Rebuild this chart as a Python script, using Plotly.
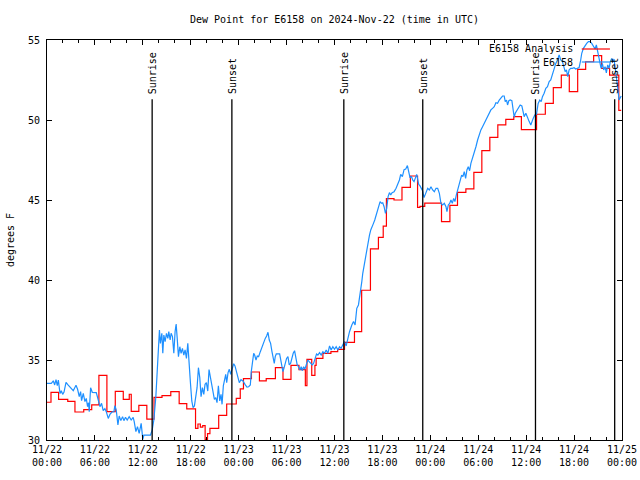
import plotly.graph_objects as go
import pandas as pd

TITLE = "Dew Point for E6158 on 2024-Nov-22 (time in UTC)"
START = "2024-11-22 00:00"
END = "2024-11-25 00:00"
Y_LABEL = "degrees F"
NAME_ANALYSIS = "E6158 Analysis"
NAME_OBS = "E6158"

# Analysis (red, stepped) : hours since start, value held until next hour entry
red_hours = [0.0, 0.5, 1.45, 2.6, 3.5, 4.6, 5.6, 6.5, 7.5, 8.55, 9.55, 10.3, 10.55, 11.5, 12.5,
             13.4, 14.4, 15.5, 16.55, 17.5, 18.6, 18.9, 19.2, 19.5, 19.8, 20.1, 20.4, 21.5, 22.5,
             23.7, 24.2, 24.6, 25.6, 26.6, 27.45, 28.6, 29.55, 30.55, 31.55, 32.35, 32.55, 33.15,
             33.55, 33.7, 34.55, 35.55, 36.4, 37.25, 38.5, 39.4, 40.5, 41.5, 42.1, 42.5, 43.45,
             44.45, 45.5, 46.4, 46.7, 47.3, 49.4, 50.45, 51.4, 52.45, 53.45, 54.45, 55.45, 56.45,
             57.45, 58.45, 59.4, 61.3, 62.4, 63.4, 64.4, 65.4, 66.45, 67.45, 68.45, 69.45, 70.45,
             71.6, 71.9]
red_vals = [32.36, 32.98, 32.54, 32.42, 31.75, 31.9, 32.2, 34.04, 31.77, 33.04, 32.54, 32.86, 31.79, 32.17, 31.3,
            32.67, 32.77, 33.02, 32.27, 31.94, 30.73, 31.0, 30.8, 30.9, 30.04, 30.4, 30.73, 31.54, 32.25,
            32.6, 33.2, 33.84, 34.25, 33.7, 33.83, 34.52, 33.79, 34.67, 34.4, 33.4, 35.04, 34.04,
            34.67, 35.1, 35.42, 35.52, 35.67, 36.1, 36.77, 39.36, 41.94, 42.67, 43.37, 45.08, 45.0,
            45.79, 46.5, 44.54, 44.6, 44.8, 43.65, 44.67, 45.48, 45.69, 46.73, 48.08, 48.92, 49.69,
            50.04, 50.21, 49.4, 50.36, 51.04, 52.02, 52.8, 51.77, 53.17, 53.64, 54.02, 53.23, 52.8,
            50.6, 50.6]

# Station observations (blue)
blue_hours = [0, 0.54, 0.79, 0.96, 1.13, 1.29, 1.42, 1.63, 1.79, 1.96, 2.13, 2.38, 2.63, 2.96, 3.29,
              3.63, 3.83, 4.04, 4.21, 4.33, 4.54, 4.75, 4.92, 5.08, 5.2, 5.29, 5.46, 5.67, 6.17, 6.42,
              6.63, 6.83, 7.04, 7.25, 7.42, 7.67, 7.88, 8.13, 8.38, 8.5, 8.67, 8.88, 9.04, 9.25, 9.46,
              9.63, 9.83, 10.04, 10.29, 10.54, 10.79, 10.92, 11.13, 11.33, 11.54, 11.79, 12.0, 12.13,
              12.96, 13.17, 13.38, 13.63, 13.79, 13.96, 14.08, 14.2, 14.38, 14.5, 14.63, 14.79, 14.96,
              15.13, 15.25, 15.42, 15.54, 15.71, 15.88, 16.04, 16.17, 16.29, 16.46, 16.63, 16.79, 16.96,
              17.13, 17.29, 17.46, 17.63, 17.79, 17.96, 18.13, 18.29, 18.46, 18.63, 18.79, 18.96, 19.13,
              19.29, 19.46, 19.63, 19.79, 19.96, 20.13, 20.29, 20.46, 20.63, 20.79, 20.96, 21.13, 21.29,
              21.46, 21.63, 21.79, 21.92, 22.08, 22.25, 22.38, 22.5, 22.67, 22.83, 23.0, 23.17, 23.38,
              23.54, 23.71, 23.88, 24.08, 24.29, 24.54, 24.79, 25.04, 25.25, 25.46, 25.58, 25.71, 25.88,
              26.0, 26.17, 26.33, 26.5, 26.71, 26.92, 27.13, 27.33, 27.5, 27.67, 27.83, 28.0, 28.17,
              28.33, 28.46, 28.58, 28.71, 29.13, 29.25, 29.42, 29.54, 29.67, 29.83, 30.0, 30.17, 30.33,
              30.5, 30.67, 30.83, 31.0, 31.17, 31.33, 31.5, 31.67, 31.83, 31.96, 32.13, 32.29, 32.46,
              32.67, 32.83, 33.0, 33.21, 33.38, 33.54, 33.75, 33.92, 34.13, 34.33, 34.54, 34.75, 34.96,
              35.17, 35.38, 35.58, 35.79, 36.0, 36.21, 36.42, 36.63, 36.83, 37.04, 37.25, 37.46, 37.67,
              37.88, 38.17, 38.38, 38.58, 38.79, 39.0, 39.17, 39.29, 39.42, 39.54, 39.71, 39.88, 40.04,
              40.21, 40.38, 40.54, 40.71, 40.88, 41.04, 41.21, 41.38, 41.54, 41.71, 41.88, 42.04, 42.21,
              42.38, 42.54, 42.71, 42.88, 43.04, 43.21, 43.46, 43.71, 43.88, 44.13, 44.29, 44.5, 44.71,
              44.92, 45.13, 45.29, 45.46, 45.63, 45.79, 45.96, 46.13, 46.29, 46.42, 46.54, 46.71, 46.88,
              47.04, 47.21, 47.46, 47.67, 47.875, 48.08, 48.29, 48.5, 48.71, 48.92, 49.13, 49.33, 49.54,
              49.75, 49.96, 50.08, 50.25, 50.42, 50.58, 50.75, 50.92, 51.08, 51.25, 51.42, 51.58, 51.75,
              51.92, 52.08, 52.25, 52.42, 52.58, 52.75, 52.92, 53.08, 53.29, 53.5, 53.71, 53.92, 54.13,
              54.33, 54.54, 54.75, 54.96, 55.17, 55.38, 55.58, 55.79, 56.0, 56.21, 56.42, 56.63, 56.83,
              57.04, 57.25, 57.38, 57.54, 57.67, 57.83, 58.0, 58.21, 58.38, 58.5, 58.63, 58.83, 59.04,
              59.25, 59.46, 59.63, 59.75, 59.96, 60.17, 60.38, 60.58, 60.71, 60.88, 61.08, 61.29, 61.5,
              61.71, 61.88, 62.04, 62.25, 62.46, 62.67, 62.88, 63.08, 63.29, 63.5, 63.71, 63.92, 64.13,
              64.33, 64.54, 64.75, 64.88, 65.04, 65.21, 65.38, 65.58, 65.79, 66.0, 66.21, 66.42, 66.63,
              66.83, 66.96, 67.17, 67.38, 67.58, 67.79, 68.0, 68.21, 68.42, 68.63, 68.79, 68.96, 69.13,
              69.25, 69.38, 69.54, 69.71, 69.88, 70.04, 70.21, 70.38, 70.54, 70.71, 70.88, 71.0, 71.13,
              71.29, 71.42, 71.54, 71.63, 71.9]
blue_vals = [33.54, 33.54, 33.7, 33.44, 33.77, 33.4, 33.75, 32.9, 33.08, 32.85, 33.0, 33.6, 33.44, 33.23, 33.08,
             33.42, 33.17, 32.71, 33.02, 32.46, 32.92, 32.4, 32.6, 32.08, 32.33, 31.77, 33.27, 32.98, 32.96, 32.5,
             32.08, 32.29, 31.83, 31.96, 31.77, 31.35, 31.6, 31.75, 31.77, 32.15, 31.88, 30.94, 31.5, 31.21, 31.46,
             31.21, 31.42, 31.25, 31.46, 31.25, 31.42, 31.15, 30.52, 30.83, 30.42, 31.04, 30.04, 30.31,
             30.31, 30.62, 31.25, 32.71, 34.48, 35.63, 36.88, 36.04, 36.67, 35.42, 36.56, 36.15, 36.67,
             36.35, 36.77, 36.25, 36.67, 36.46, 35.42, 36.77, 37.25, 36.46, 35.21, 35.83, 35.42, 35.73,
             35.31, 35.63, 35.1, 36.04, 34.52, 33.58, 32.44, 32.02, 32.13, 32.75, 33.27, 34.52, 33.9,
             32.71, 33.27, 32.85, 33.48, 33.58, 33.06, 34.4, 33.9, 33.58, 33.06, 32.54, 32.65, 32.33,
             33.38, 32.44, 32.85, 32.23, 33.38, 33.69, 34.1, 33.58, 34.21, 34.42, 34.1, 34.42, 34.77,
             34.63, 34.31, 33.98, 33.58, 33.77, 33.69, 33.48, 33.31, 33.33, 33.44, 34.27, 34.69, 35.42,
             35.31, 35.0, 35.25, 35.21, 35.52, 35.83, 36.08, 36.35, 36.5, 36.73, 36.25, 36.04, 35.52,
             35.1, 34.79, 35.21, 35.38, 35.38, 35.1, 34.69, 34.27, 34.48, 34.79, 35.1, 35.21, 34.69,
             34.79, 35.17, 35.42, 35.58, 35.21, 34.69, 34.58, 34.38, 34.58, 34.33, 34.58, 34.42, 34.69,
             35.0, 34.9, 34.79, 34.69, 34.79, 35.1, 35.38, 35.31, 35.46, 35.31, 35.52, 35.42, 35.63,
             35.42, 35.88, 35.63, 35.83, 35.67, 35.83, 35.63, 35.83, 35.73, 35.94, 36.15, 35.88, 36.35,
             36.77, 37.19, 37.4, 37.19, 38.23, 38.44, 38.96, 39.38, 39.9, 40.42, 40.94, 41.35, 41.9,
             42.4, 42.81, 43.13, 43.29, 43.54, 43.75, 44.06, 44.38, 44.75, 44.9, 44.79, 44.83, 44.58,
             44.17, 44.48, 45.21, 45.46, 45.31, 45.46, 45.52, 45.73, 45.94, 46.25, 46.6, 46.46, 46.9,
             46.94, 47.15, 46.85, 46.38, 46.48, 46.25, 46.15, 46.38, 46.6, 46.29, 45.98, 45.88, 45.71,
             45.56, 45.15, 45.42, 45.73, 45.63, 45.83, 45.63, 45.52, 45.73, 45.73, 45.42, 44.79, 44.69,
             44.79, 44.58, 44.27, 44.69, 44.79, 45.0, 44.79, 45.1, 44.9, 45.31, 45.63, 46.04, 46.35,
             46.56, 46.46, 46.77, 46.35, 46.88, 47.08, 46.83, 47.29, 47.6, 47.9, 48.33, 48.75, 49.13,
             49.38, 49.58, 49.79, 50.04, 50.25, 50.42, 50.63, 50.73, 50.83, 51.08, 51.04, 51.25, 51.35,
             51.5, 51.5, 51.15, 51.25, 50.94, 51.21, 51.25, 51.21, 50.52, 50.17, 50.42, 50.58, 50.83,
             50.94, 50.88, 50.52, 50.21, 50.42, 50.1, 49.9, 49.69, 49.9, 50.1, 50.31, 50.35, 51.04,
             51.25, 51.15, 51.46, 51.67, 51.98, 52.08, 52.4, 52.5, 52.9, 53.23, 53.54, 53.75, 54.06,
             53.75, 53.65, 53.27, 53.02, 53.13, 52.71, 53.13, 53.23, 53.23, 53.27, 53.19, 53.23, 53.27,
             53.75, 54.17, 54.48, 54.69, 54.79, 54.9, 54.9, 54.79, 54.65, 54.44, 54.69, 54.27, 53.85,
             53.44, 53.23, 53.54, 53.13, 53.33, 52.94, 53.44, 53.23, 53.65, 53.85, 53.65, 53.81, 53.33,
             52.81, 52.19, 51.67, 51.25, 51.5]

sun_times = ["2024-11-22 13:10", "2024-11-22 23:09", "2024-11-23 13:10",
             "2024-11-23 23:03", "2024-11-24 13:10", "2024-11-24 23:05"]
sun_labels = ["Sunrise", "Sunset", "Sunrise", "Sunset", "Sunrise", "Sunset"]

FONT = "DejaVu Sans Mono"
RED = "#ff0000"
BLUE = "#1e90ff"
LINE_TOP = 51.3

base = pd.Timestamp(START)
red_t = base + pd.to_timedelta(red_hours, unit="h")
blue_t = base + pd.to_timedelta(blue_hours, unit="h")

fig = go.Figure()
fig.add_trace(go.Scatter(x=red_t, y=red_vals, mode="lines", name=NAME_ANALYSIS,
                         line=dict(color=RED, width=1.2, shape="hv")))
fig.add_trace(go.Scatter(x=blue_t, y=blue_vals, mode="lines", name=NAME_OBS,
                         line=dict(color=BLUE, width=1.2)))

shapes = []
annotations = []
for t, lab in zip(sun_times, sun_labels):
    shapes.append(dict(type="line", xref="x", yref="y", x0=t, x1=t, y0=30, y1=LINE_TOP,
                       line=dict(color="black", width=1.3)))
    annotations.append(dict(x=t, y=LINE_TOP, xref="x", yref="y", text=lab, textangle=-90,
                            showarrow=False, xanchor="center", yanchor="bottom", yshift=3,
                            font=dict(family=FONT, size=10, color="black")))

# manual legend (text left of sample line)
for name, col, yp in [(NAME_ANALYSIS, RED, 0.9775), (NAME_OBS, BLUE, 0.945)]:
    annotations.append(dict(x=0.918, y=yp, xref="paper", yref="paper", text=name,
                            showarrow=False, xanchor="right", yanchor="middle",
                            font=dict(family=FONT, size=10, color="black")))
    shapes.append(dict(type="line", xref="paper", yref="paper", x0=0.930, x1=0.979,
                       y0=yp, y1=yp, line=dict(color=col, width=1.2)))

fig.update_layout(
    width=640, height=480,
    margin=dict(l=47, r=18, t=40, b=40),
    paper_bgcolor="white", plot_bgcolor="white",
    showlegend=False,
    font=dict(family=FONT, size=10, color="black"),
    title=dict(text=TITLE, x=0.5, xref="paper", xanchor="center",
               y=1 - 19 / 480, yref="container", yanchor="middle",
               font=dict(family=FONT, size=10, color="black")),
    shapes=shapes, annotations=annotations,
)
fig.update_xaxes(type="date", range=[START, END], tick0=START, dtick=6 * 3600 * 1000,
                 tickformat="%m/%d<br>%H:%M", ticks="inside", ticklen=5, tickcolor="black",
                 minor=dict(dtick=2 * 3600 * 1000, ticks="inside", ticklen=3, tickcolor="black",
                            showgrid=False),
                 showline=True, linecolor="black", linewidth=1, mirror="ticks",
                 showgrid=False, zeroline=False, automargin=False)
fig.update_yaxes(range=[30, 55], dtick=5, ticks="inside", ticklen=5, tickcolor="black",
                 showline=True, linecolor="black", linewidth=1, mirror="ticks",
                 showgrid=False, zeroline=False, automargin=False, ticklabelstandoff=4,
                 title=dict(text=Y_LABEL, standoff=11, font=dict(family=FONT, size=10)))

fig.write_html("out.html", config={"displayModeBar": False},
               post_script="document.body.style.margin='0px';")
